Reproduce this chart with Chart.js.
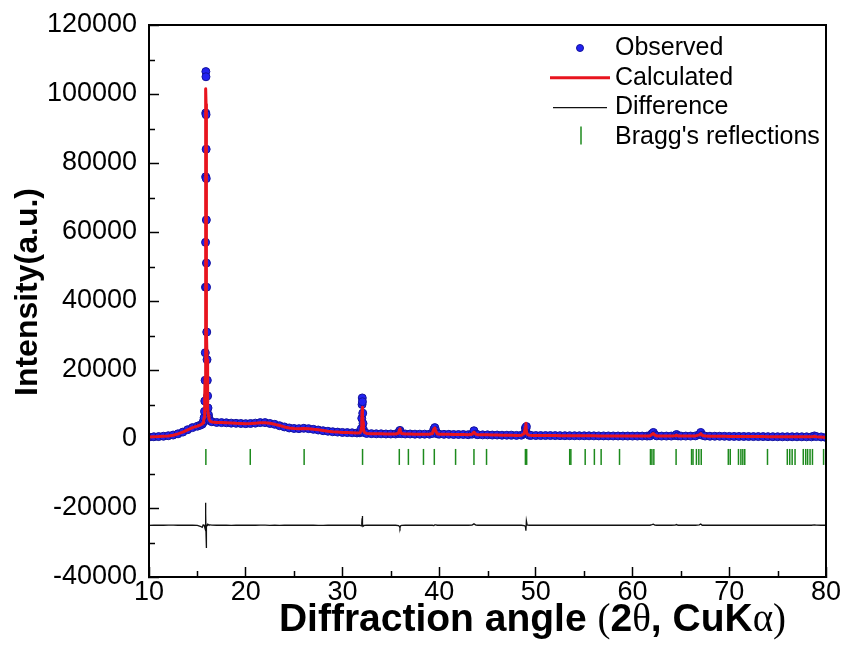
<!DOCTYPE html>
<html>
<head>
<meta charset="utf-8">
<title>Rietveld refinement</title>
<script src="https://cdn.jsdelivr.net/npm/chart.js@4.4.1/dist/chart.umd.min.js"></script>
<style>
  html, body { margin: 0; padding: 0; background: #fff; }
</style>
</head>
<body>
<canvas id="rietveld" width="843" height="656"></canvas>
<script>
// 2theta grid (deg), finer steps across the reflections
const twoTheta = [
  10, 10.5, 11, 11.5, 12, 12.5, 13, 13.5, 14, 14.5, 15, 15.3, 15.5,
  15.6, 15.65, 15.7, 15.74, 15.77, 15.8, 15.82, 15.84, 15.85, 15.86, 15.87, 15.88, 15.89, 15.9,
  15.91, 15.92, 15.93, 15.94, 15.95, 15.97, 16, 16.03, 16.06, 16.1, 16.15, 16.2, 16.3, 16.5,
  17, 17.5, 18, 18.5, 19, 19.5, 20, 20.5, 21, 21.5, 22, 22.5, 23, 23.5, 24, 24.5,
  25, 25.5, 26, 26.5, 27, 27.5, 28, 28.5, 29, 29.5, 30, 30.5, 31, 31.5, 31.8,
  31.9, 31.95, 32, 32.03, 32.05, 32.07, 32.1, 32.13, 32.17, 32.25, 32.5,
  33, 33.5, 34, 34.5, 35, 35.5,
  35.8, 35.9, 35.95, 36, 36.1,
  36.5, 37, 37.5, 38, 38.5, 39,
  39.3, 39.45, 39.55, 39.65, 39.8,
  40, 40.5, 41, 41.5, 42, 42.5, 43,
  43.4, 43.6, 43.8,
  44, 44.5, 45, 45.5, 46, 46.5, 47, 47.5, 48, 48.5,
  48.8, 48.92, 48.97, 49.02, 49.1, 49.3, 49.5,
  50, 50.5, 51, 51.5, 52, 52.5, 53, 53.5, 54, 54.5, 55, 55.5, 56, 56.5, 57, 57.5, 58, 58.5, 59, 59.5, 60, 60.5, 61, 61.5,
  61.8, 62, 62.15, 62.3, 62.5,
  63, 63.5, 64,
  64.4, 64.55, 64.7,
  65, 65.5, 66, 66.5,
  66.9, 67.05, 67.2,
  67.5, 68, 68.5, 69, 69.5, 70, 70.5, 71, 71.5, 72, 72.5, 73, 73.5, 74, 74.5, 75, 75.5, 76, 76.5, 77, 77.5, 78, 78.5,
  78.8, 79, 79.5, 80
];

const observed = [
  550, 650, 700, 800, 950, 1150, 1500, 2000, 2700, 3300, 3700, 4000, 4300,
  4800, 5300, 6200, 8000, 11000, 17000, 25000, 44000, 57000, 76000, 94500, 106500, 105000, 94000,
  84000, 75500, 63500, 51000, 44000, 31000, 23000, 17000, 12500, 9000, 7000, 6000, 5300, 5000,
  4800, 4750, 4700, 4600, 4550, 4500, 4450, 4500, 4600, 4750, 4750, 4500, 4250, 3850, 3500, 3200,
  3050, 3000, 3100, 3000, 2800, 2600, 2400, 2250, 2100, 2000, 1900, 1850, 1800, 1750, 1800,
  2100, 3000, 6000, 10000, 11900, 10800, 7500, 4500, 2700, 1900, 1600,
  1550, 1500, 1500, 1450, 1450, 1450,
  1600, 2300, 2500, 2000, 1550,
  1450, 1450, 1400, 1400, 1400, 1400,
  1600, 2800, 3300, 2400, 1500,
  1400, 1350, 1350, 1300, 1300, 1300, 1250,
  1400, 2400, 1400,
  1250, 1200, 1200, 1150, 1150, 1100, 1100, 1100, 1050, 1100,
  1500, 3200, 3000, 3600, 1500, 1100, 1050,
  1000, 1000, 1000, 1000, 980, 970, 960, 950, 950, 940, 930, 920, 910, 900, 900, 890, 880, 870, 860, 860, 850, 850, 850, 850,
  900, 1500, 1900, 1200, 900,
  850, 850, 850,
  1000, 1300, 900,
  850, 850, 850, 900,
  1300, 1900, 1100,
  850, 800, 800, 800, 780, 760, 750, 740, 730, 720, 700, 700, 690, 680, 670, 660, 650, 650, 650, 640, 640, 630, 620,
  900, 700, 600, 450
];

const calculated = [
  600, 650, 700, 800, 900, 1100, 1500, 2000, 2650, 3300, 3750, 4050, 4350,
  4700, 5300, 6200, 8200, 11500, 18000, 26500, 42000, 54000, 70000, 88000, 100500, 101500, 97000,
  90600, 80000, 66000, 53000, 44500, 31500, 23000, 16500, 12000, 8800, 6800, 5900, 5200, 4950,
  4800, 4750, 4700, 4650, 4550, 4500, 4450, 4500, 4600, 4700, 4700, 4550, 4250, 3900, 3500, 3200,
  3050, 3000, 3050, 3000, 2800, 2650, 2450, 2250, 2100, 2000, 1900, 1850, 1800, 1750, 1800,
  2200, 3200, 5500, 8000, 9200, 8800, 7000, 4800, 3000, 1950, 1600,
  1550, 1500, 1500, 1450, 1450, 1450,
  1700, 2700, 3000, 2200, 1600,
  1450, 1450, 1400, 1400, 1400, 1400,
  1600, 2900, 3200, 2300, 1500,
  1400, 1350, 1350, 1300, 1300, 1300, 1250,
  1350, 2000, 1350,
  1250, 1200, 1200, 1150, 1150, 1100, 1100, 1100, 1050, 1100,
  1600, 3500, 4600, 2300, 1400, 1100, 1050,
  1000, 1000, 1000, 1000, 980, 970, 960, 950, 950, 940, 930, 920, 910, 900, 900, 890, 880, 870, 860, 860, 850, 850, 850, 850,
  900, 1350, 1600, 1150, 900,
  850, 850, 850,
  950, 1100, 900,
  850, 850, 850, 900,
  1200, 1550, 1100,
  850, 800, 800, 800, 780, 760, 750, 740, 730, 720, 700, 700, 690, 680, 670, 660, 650, 650, 650, 640, 640, 630, 620,
  800, 680, 600, 450
];

// obs - calc, shifted down by 25000 so it sits under the pattern
const difference = [
  -25050, -25000, -25000, -25000, -24950, -24950, -25000, -25000, -24950, -25000, -25050, -25300, -25600,
  -24900, -25000, -25000, -25200, -25500, -26000, -26500, -23000, -22000, -19000, -18500, -19000, -21500, -28000,
  -31600, -29500, -27500, -27000, -25500, -25500, -25000, -24500, -24500, -24800, -24800, -24900, -24900, -24950,
  -25000, -25000, -25000, -25050, -25000, -25000, -25000, -25000, -25000, -24950, -24950, -25050, -25000, -25050, -25000, -25000,
  -25000, -25000, -24950, -25000, -25000, -25050, -25050, -25000, -25000, -25000, -25000, -25000, -25000, -25000, -25000,
  -25100, -25200, -24500, -23000, -22300, -23000, -24500, -25300, -25300, -25050, -25000,
  -25000, -25000, -25000, -25000, -25000, -25000,
  -25100, -25400, -25800, -25200, -25050,
  -25000, -25000, -25000, -25000, -25000, -25000,
  -25000, -25100, -24900, -24900, -25000,
  -25000, -25000, -25000, -25000, -25000, -25000, -25000,
  -24950, -24600, -24950,
  -25000, -25000, -25000, -25000, -25000, -25000, -25000, -25000, -25000, -25000,
  -25100, -25300, -26600, -23700, -24900, -25000, -25000,
  -25000, -25000, -25000, -25000, -25000, -25000, -25000, -25000, -25000, -25000, -25000, -25000, -25000, -25000, -25000, -25000, -25000, -25000, -25000, -25000, -25000, -25000, -25000, -25000,
  -25000, -24850, -24700, -24950, -25000,
  -25000, -25000, -25000,
  -24950, -24800, -25000,
  -25000, -25000, -25000, -25000,
  -24900, -24650, -25000,
  -25000, -25000, -25000, -25000, -25000, -25000, -25000, -25000, -25000, -25000, -25000, -25000, -25000, -25000, -25000, -25000, -25000, -25000, -25000, -25000, -25000, -25000, -25000,
  -24900, -24980, -25000, -25000
];

// allowed reflection positions (deg)
const braggPositions = [
  15.88, 20.47, 26.04, 32.08, 35.88, 36.82, 38.38, 39.5, 41.7, 43.6, 44.9,
  48.92, 49.05, 53.5, 53.62, 55.1, 56.05, 56.75, 58.65, 61.85, 62.0, 62.2,
  64.5, 66.1, 66.25, 66.6, 66.85, 67.1, 69.9, 70.1, 70.95, 71.2, 71.4, 71.6,
  73.95, 76.0, 76.25, 76.5, 76.8, 77.65, 77.9, 78.1, 78.35, 78.6, 79.75
];
const braggLevel = -5200;

const xMinorTicks = [15, 25, 35, 45, 55, 65, 75];
const yMinorTicks = [-30000, -10000, 10000, 30000, 50000, 70000, 90000, 110000];

const FONT = "'Liberation Sans', Arial, sans-serif";
const SERIF = "'Liberation Serif', 'Times New Roman', serif";

// x title pieces: greek letters and brackets are set in the plain serif face
const xTitleParts = [
  ['Diffraction angle ', 'bold', FONT],
  ['(', 'normal', SERIF],
  ['2', 'bold', FONT],
  ['\u03B8', 'normal', SERIF],
  [', CuK', 'bold', FONT],
  ['\u03B1', 'normal', SERIF],
  [')', 'normal', SERIF]
];
const yTitle = 'Intensity(a.u.)';

function toPoints(xs, ys) {
  return xs.map((x, i) => ({ x: x, y: ys[i] }));
}

// short inward minor ticks + the closed frame round the plot
const frameTicks = {
  id: 'frameTicks',
  afterDraw(chart) {
    const { ctx, chartArea: a, scales } = chart;
    ctx.save();
    ctx.strokeStyle = '#000';
    ctx.lineWidth = 1.5;
    ctx.beginPath();
    xMinorTicks.forEach((v) => {
      const px = Math.round(scales.x.getPixelForValue(v)) + 0.5;
      ctx.moveTo(px, a.bottom);
      ctx.lineTo(px, a.bottom - 6);
    });
    yMinorTicks.forEach((v) => {
      const py = Math.round(scales.y.getPixelForValue(v)) + 0.5;
      ctx.moveTo(a.left, py);
      ctx.lineTo(a.left + 6, py);
    });
    ctx.stroke();
    ctx.lineWidth = 2;
    ctx.strokeRect(a.left, a.top, a.right - a.left, a.bottom - a.top);
    ctx.restore();
  }
};

// axis titles drawn by hand so the x title can mix faces
const axisTitles = {
  id: 'axisTitles',
  afterDraw(chart) {
    const { ctx, chartArea: a } = chart;
    ctx.save();
    ctx.fillStyle = '#000';
    ctx.textBaseline = 'alphabetic';
    ctx.textAlign = 'left';

    const size = 39;
    const widths = xTitleParts.map(([t, w, f]) => {
      ctx.font = w + ' ' + size + 'px ' + f;
      return ctx.measureText(t).width;
    });
    const total = widths.reduce((s, w) => s + w, 0);
    let x = (a.left + a.right) / 2 + 45 - total / 2;
    const base = chart.height - 25;
    xTitleParts.forEach(([t, w, f], i) => {
      ctx.font = w + ' ' + size + 'px ' + f;
      ctx.fillText(t, x, base);
      x += widths[i];
    });

    ctx.translate(37, (a.top + a.bottom) / 2 - 9);
    ctx.rotate(-Math.PI / 2);
    ctx.textAlign = 'center';
    ctx.font = 'bold 32px ' + FONT;
    ctx.fillText(yTitle, 0, 0);
    ctx.restore();
  }
};

// legend sits inside the plot, top right
const insetLegend = {
  id: 'insetLegend',
  afterDraw(chart) {
    const { ctx, chartArea: a } = chart;
    const textX = a.right - 211;
    const iconX = a.right - 246;
    ctx.save();
    ctx.font = '25px ' + FONT;
    ctx.fillStyle = '#000';
    ctx.textBaseline = 'middle';
    chart.data.datasets.forEach((ds, i) => {
      const yy = a.top + 23 + i * 29.8;
      ctx.beginPath();
      if (ds.legendIcon === 'dot') {
        ctx.fillStyle = ds.pointBackgroundColor;
        ctx.strokeStyle = ds.pointBorderColor;
        ctx.lineWidth = 1;
        ctx.arc(iconX, yy, 3.5, 0, Math.PI * 2);
        ctx.fill();
        ctx.stroke();
      } else if (ds.legendIcon === 'line') {
        const trim = ds.borderWidth < 2 ? 3 : 0;
        ctx.strokeStyle = ds.borderColor;
        ctx.lineWidth = ds.borderWidth;
        ctx.moveTo(iconX - 30 + trim, yy);
        ctx.lineTo(iconX + 30 - trim, yy);
        ctx.stroke();
      } else {
        ctx.strokeStyle = ds.pointBorderColor;
        ctx.lineWidth = 1.5;
        ctx.moveTo(iconX + 1, yy - 11);
        ctx.lineTo(iconX + 1, yy + 7);
        ctx.stroke();
      }
      ctx.fillStyle = '#000';
      ctx.fillText(ds.label, textX, yy);
    });
    ctx.restore();
  }
};

const tickFont = { family: FONT, size: 27 };

// pin the axis boxes so the plot frame lands where it should
function pinBox(size) {
  return (scale) => {
    if (scale.isHorizontal()) scale.height = size; else scale.width = size;
    scale.paddingTop = 0;
    scale.paddingBottom = 0;
    scale.paddingLeft = 0;
    scale.paddingRight = 0;
  };
}

new Chart(document.getElementById('rietveld'), {
  type: 'scatter',
  data: {
    datasets: [
      {
        label: 'Observed',
        legendIcon: 'dot',
        data: toPoints(twoTheta, observed),
        showLine: false,
        pointRadius: 4,
        pointBackgroundColor: '#2222f0',
        pointBorderColor: '#12129c',
        pointBorderWidth: 1,
        order: 4
      },
      {
        label: 'Calculated',
        legendIcon: 'line',
        data: toPoints(twoTheta, calculated),
        showLine: true,
        borderColor: '#e8141e',
        borderWidth: 3,
        borderJoinStyle: 'round',
        pointRadius: 0,
        order: 3
      },
      {
        label: 'Difference',
        legendIcon: 'line',
        data: toPoints(twoTheta, difference),
        showLine: true,
        borderColor: '#111111',
        borderWidth: 1.3,
        pointRadius: 0,
        order: 2
      },
      {
        label: "Bragg's reflections",
        legendIcon: 'tick',
        data: braggPositions.map((x) => ({ x: x, y: braggLevel })),
        pointStyle: 'line',
        pointRotation: 90,
        pointRadius: 8,
        pointBorderColor: '#1d8a1d',
        pointBorderWidth: 1.5,
        order: 1
      }
    ]
  },
  options: {
    responsive: false,
    animation: false,
    layout: { padding: { top: 25, right: 17, left: 0, bottom: 0 } },
    plugins: {
      legend: { display: false },
      tooltip: { enabled: false }
    },
    scales: {
      x: {
        type: 'linear',
        min: 10,
        max: 80,
        ticks: {
          stepSize: 10,
          font: tickFont,
          color: '#000',
          padding: 9,
          maxRotation: 0,
          callback: (v) => String(v)
        },
        grid: { drawOnChartArea: false, tickLength: -10, tickWidth: 1.5, tickColor: '#000' },
        border: { color: '#000', width: 2 },
        afterFit: pinBox(79)
      },
      y: {
        type: 'linear',
        min: -40000,
        max: 120000,
        ticks: {
          stepSize: 20000,
          font: tickFont,
          color: '#000',
          padding: 22,
          callback: (v) => String(v)
        },
        grid: { drawOnChartArea: false, tickLength: -10, tickWidth: 1.5, tickColor: '#000' },
        border: { color: '#000', width: 2 },
        afterFit: pinBox(149)
      }
    }
  },
  plugins: [frameTicks, axisTitles, insetLegend]
});
</script>
</body>
</html>
